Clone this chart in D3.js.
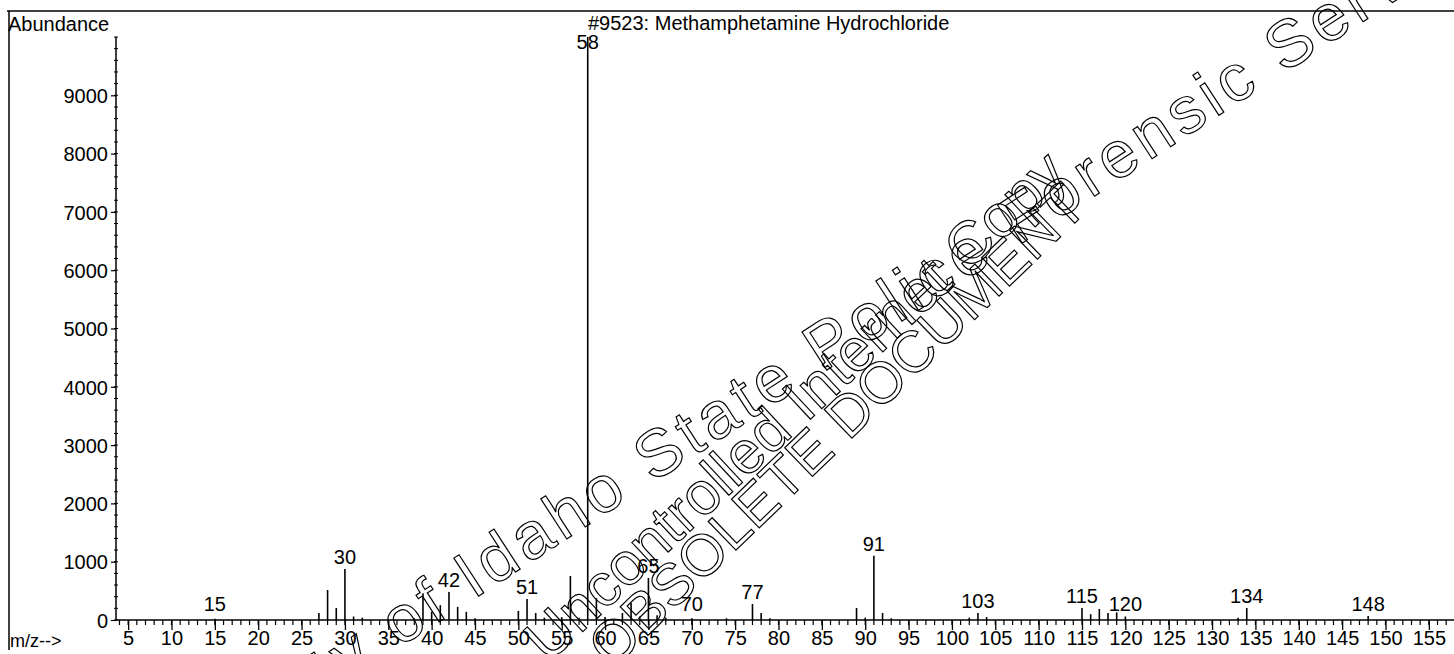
<!doctype html>
<html lang="en">
<head>
  <meta charset="utf-8">
  <title>Methamphetamine Hydrochloride - mass spectrum</title>
  <script src="https://d3js.org/d3.v7.min.js"></script>
  <style>
    body { margin: 0; background: #fff; }
    text { font-family: "Liberation Sans", Arial, sans-serif; fill: #000; }
  </style>
</head>
<body>
<div id="chart"></div>
<script>
  // spectrum data (m/z, abundance)
  var mz =        [15, 27, 28, 29, 30, 31, 32, 38, 39, 40, 41, 42, 43, 44, 45, 50, 51, 52, 53, 55, 56, 57, 58, 59, 60, 62, 63, 64, 65, 66, 67, 70, 74, 77, 78, 79, 89, 90, 91, 92, 93, 102, 103, 104, 115, 116, 117, 118, 119, 120, 133, 134, 148];
  var abundance = [20, 120, 515, 205, 875, 60, 40, 30, 460, 140, 255, 480, 225, 140, 30, 155, 360, 120, 40, 50, 755, 40, 9999, 375, 50, 120, 290, 60, 720, 80, 40, 30, 30, 275, 120, 30, 205, 40, 1100, 120, 30, 40, 120, 50, 205, 100, 190, 120, 130, 60, 40, 205, 70];
  var labelled = [15, 30, 42, 51, 58, 65, 70, 77, 91, 103, 115, 120, 134, 148];
  var yTicks = [0, 1000, 2000, 3000, 4000, 5000, 6000, 7000, 8000, 9000];
  var xTicks = d3.range(5, 160, 5);
  var title = "#9523: Methamphetamine Hydrochloride";

  var W = 1454, H = 654;
  var svg = d3.select("#chart").append("svg")
    .attr("width", W).attr("height", H);

  var x = d3.scaleLinear().domain([3.6, 157.9]).range([116, 1454]);
  var y = d3.scaleLinear().domain([0, 10000]).range([620, 37]);

  // frame of the printout
  svg.append("line").attr("x1", 7).attr("x2", W).attr("y1", 11).attr("y2", 11)
    .attr("stroke", "#000").attr("stroke-width", 1.5);
  svg.append("line").attr("x1", 9).attr("x2", 9).attr("y1", 11).attr("y2", 650)
    .attr("stroke", "#000").attr("stroke-width", 1.5);

  // y axis
  var yAxis = svg.append("g")
    .attr("transform", "translate(" + x.range()[0] + ",0)")
    .call(d3.axisLeft(y).tickValues(yTicks).tickSize(5).tickPadding(3).tickFormat(d3.format("d")));
  yAxis.select(".domain").remove();
  yAxis.append("line").attr("y1", y(0)).attr("y2", y(10000))
    .attr("stroke", "#000").attr("stroke-width", 1.5);
  yAxis.selectAll("text").style("font-size", "20px").attr("dy", "0.36em");
  yAxis.selectAll(".tick line").attr("stroke-width", 1.2);
  // minor y ticks
  yAxis.selectAll(".ytm").data(d3.range(0, 10001, 200)).enter().append("line")
    .attr("x1", -2).attr("x2", 2)
    .attr("y1", d => y(d)).attr("y2", d => y(d))
    .attr("stroke", "#000");

  // x axis
  var xAxis = svg.append("g")
    .attr("transform", "translate(0," + y(0) + ")")
    .call(d3.axisBottom(x).tickValues(xTicks).tickSize(10).tickPadding(1).tickFormat(d3.format("d")));
  xAxis.select(".domain").remove();
  xAxis.append("line").attr("x1", x.range()[0]).attr("x2", W)
    .attr("stroke", "#000").attr("stroke-width", 1.5);
  xAxis.selectAll("text").style("font-size", "20px");
  xAxis.selectAll(".tick line").attr("stroke-width", 1.3);
  xAxis.selectAll(".xtm").data(d3.range(4, 158, 1)).enter().append("line")
    .attr("x1", d => x(d)).attr("x2", d => x(d))
    .attr("y1", 0).attr("y2", 5)
    .attr("stroke", "#000").attr("stroke-width", 1.2);

  // peaks
  svg.append("g").selectAll("line").data(mz).enter().append("line")
    .attr("x1", d => x(d)).attr("x2", d => x(d))
    .attr("y1", y(0))
    .attr("y2", (d, i) => y(abundance[i]))
    .attr("stroke", "#000").attr("stroke-width", 1.6);

  // peak labels
  svg.append("g").selectAll("text").data(labelled).enter().append("text")
    .attr("x", d => x(d))
    .attr("y", d => {
      var top = y(abundance[mz.indexOf(d)]);
      return Math.max(49, Math.min(top - 5, y(0) - 9));
    })
    .attr("text-anchor", "middle")
    .style("font-size", "20px")
    .text(d => d);

  // titles
  svg.append("text").attr("x", 8).attr("y", 31).style("font-size", "20px").text("Abundance");
  svg.append("text").attr("x", 588).attr("y", 30).style("font-size", "20px").text(title);
  svg.append("text").attr("x", 10).attr("y", 647).style("font-size", "18px").text("m/z-->");

  // outlined watermark stamped across the scan (runs off the page edges)
  var marks = [
    {t: "Property of Idaho State Police Forensic Services", x: 137, y: 818, a: -33, s: 66, ls: 5},
    {t: "Uncontrolled Internet Copy", x: 548, y: 664, a: -43, s: 60, ls: 0},
    {t: "OBSOLETE DOCUMENT", x: 612, y: 670, a: -44, s: 58, ls: 0}
  ];
  svg.append("g").selectAll("text").data(marks).enter().append("text")
    .attr("transform", d => "translate(" + d.x + "," + d.y + ") rotate(" + d.a + ")")
    .style("font-size", d => d.s + "px")
    .style("letter-spacing", d => d.ls + "px")
    .style("fill", "none")
    .style("stroke", "#000")
    .style("stroke-width", 1.2)
    .text(d => d.t);
</script>
</body>
</html>
